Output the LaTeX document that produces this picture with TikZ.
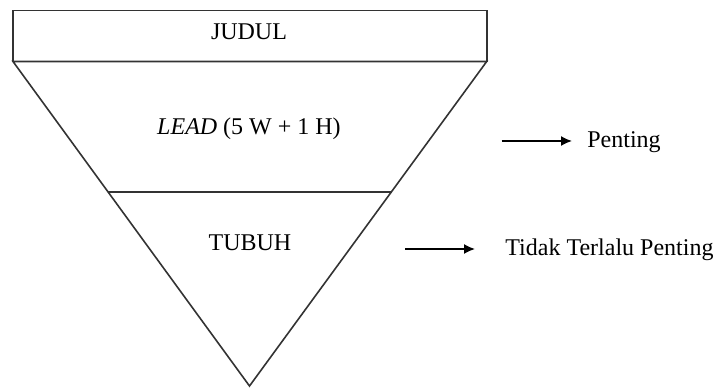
\documentclass[tikz,border=0pt]{standalone}
\usepackage{fontspec}
\setmainfont{Liberation Serif}
\usetikzlibrary{arrows.meta,calc}
\begin{document}
\begin{tikzpicture}[x=0.5pt,y=-0.5pt,
  outline/.style={draw=black!80, line width=0.8pt, line join=miter},
  txt/.style={font=\fontsize{12}{14}\selectfont, inner sep=0pt},
  pointer/.style={draw=black, line width=0.8pt, -{Latex[length=5.5pt,width=5pt]}}]
\useasboundingbox (0,0) rectangle (718,389);

% headline box
\coordinate (tl) at (13,10.5);
\coordinate (tr) at (486.7,10.5);
\coordinate (bl) at (13,61.5);
\coordinate (br) at (486.7,61.5);
\coordinate (apex) at (249.5,386);
\draw[outline] (tl) rectangle (br);

% inverted pyramid with the divider between lead and body
\draw[outline] (bl) -- (br) -- (apex) -- cycle;
\coordinate (dl) at ($(bl)!0.402!(apex)$);
\coordinate (dr) at ($(br)!0.402!(apex)$);
\draw[outline] (dl) -- (dr);

% section labels
\node[txt, anchor=base] (judul) at (249,40) {JUDUL};
\node[txt, anchor=base] (lead) at (249,135) {\textit{LEAD} (5 W + 1 H)};
\node[txt, anchor=base] (tubuh) at (250,251) {TUBUH};

% importance notes
\node[txt, anchor=base west] (penting) at (587,148) {Penting};
\node[txt, anchor=base west] (tidak) at (505,256) {Tidak Terlalu Penting};
\coordinate (p1) at (501.7,141);
\coordinate (p2) at (405,249);
\draw[pointer, shorten >=7.5pt] (p1) -- (p1 -| penting.west);
\draw[pointer, shorten >=15pt] (p2) -- (p2 -| tidak.west);
\end{tikzpicture}
\end{document}
